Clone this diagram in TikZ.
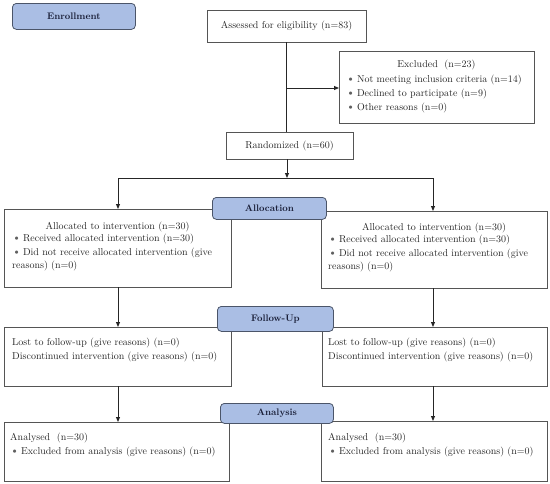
\documentclass[tikz,border=0pt]{standalone}
\usetikzlibrary{arrows.meta}
\definecolor{lblfill}{RGB}{170,190,228}
\definecolor{lbldraw}{RGB}{75,85,105}
\definecolor{boxdraw}{RGB}{85,85,85}
\definecolor{bul}{RGB}{95,95,95}
\definecolor{lbltext}{RGB}{25,30,55}
\newcommand{\bu}{{\color{bul}\fontsize{12}{12}\selectfont\textbullet}\,}
\tikzset{
  box/.style={draw=boxdraw, line width=0.8pt, anchor=north west, inner sep=0pt, outer sep=0pt},
  lbl/.style={draw=lbldraw, fill=lblfill, rounded corners=4pt, line width=0.8pt, anchor=north west, inner sep=0pt,
    font=\fontsize{9.5}{11}\selectfont\bfseries, text=lbltext},
  txt/.style={inner sep=0pt, align=left, font=\fontsize{10}{13.5}\selectfont, text=black!85},
  conn/.style={line width=1pt, draw=black!85},
  arr/.style={conn, -{Triangle[length=5pt,width=4pt]}}
}
\begin{document}
\begin{tikzpicture}[x=1pt,y=-1pt]
\useasboundingbox (0,0) rectangle (550,483);
% boxes
\node[box, minimum width=159pt, minimum height=32pt, txt] (assess) at (207,10) {Assessed for eligibility (n=83)};
\node[box, minimum width=195pt, minimum height=72pt] (excl) at (339,51) {};
\node[txt, anchor=north] (exclt) at (436.5,60) {Excluded\ \ (n=23)};
\node[txt, anchor=north west, font=\fontsize{10}{14}\selectfont] (exclb) at (346,75) {\bu Not meeting inclusion criteria (n=14)\\ \bu Declined to participate (n=9)\\ \bu Other reasons (n=0)};
\node[box, minimum width=127pt, minimum height=27pt, txt] (rand) at (226,132) {Randomized (n=60)};

\node[box, minimum width=227pt, minimum height=78pt] (lalloc) at (4,209) {};
\node[txt, anchor=north] (lallt) at (117.5,222) {Allocated to intervention (n=30)};
\node[txt, anchor=north west] (lallb) at (12,234) {\bu Received allocated intervention (n=30)\\ \bu Did not receive allocated intervention (give\\ reasons) (n=0)};

\node[box, minimum width=226pt, minimum height=77pt] (ralloc) at (321,211) {};
\node[txt, anchor=north] (rallt) at (434,223) {Allocated to intervention (n=30)};
\node[txt, anchor=north west] (rallb) at (328,235) {\bu Received allocated intervention (n=30)\\ \bu Did not receive allocated intervention (give\\ reasons) (n=0)};

\node[box, minimum width=227pt, minimum height=59pt] (lfol) at (4,327) {};
\node[txt, anchor=north west] (lfolt) at (12,338) {Lost to follow-up (give reasons) (n=0)\\ Discontinued intervention (give reasons) (n=0)};
\node[box, minimum width=225pt, minimum height=59pt] (rfol) at (322,327) {};
\node[txt, anchor=north west] (rfolt) at (328,338) {Lost to follow-up (give reasons) (n=0)\\ Discontinued intervention (give reasons) (n=0)};

\node[box, minimum width=225pt, minimum height=59pt] (lana) at (4,422) {};
\node[txt, anchor=north west] (lanat) at (10,433) {Analysed\ \ (n=30)\\ \bu Excluded from analysis (give reasons) (n=0)};
\node[box, minimum width=226pt, minimum height=60pt] (rana) at (321,421) {};
\node[txt, anchor=north west] (ranat) at (328,433) {Analysed\ \ (n=30)\\ \bu Excluded from analysis (give reasons) (n=0)};

% connectors
\coordinate (j1) at (287,88);
\coordinate (split) at (287,178);
\coordinate (lsplit) at (118,178);
\coordinate (rsplit) at (433,178);
\draw[conn] (assess.south) -- (assess.south |- rand.north);
\draw[arr] (j1) -- (j1 -| excl.west);
\draw[arr] (split |- rand.south) -- (split);
\draw[conn] (lsplit) -- (rsplit);
\draw[arr] (lsplit) -- (lsplit |- lalloc.north);
\draw[arr] (rsplit) -- (rsplit |- ralloc.north);
\draw[arr] (lsplit |- lalloc.south) -- (lsplit |- lfol.north);
\draw[arr] (rsplit |- ralloc.south) -- (rsplit |- rfol.north);
\draw[arr] (lsplit |- lfol.south) -- (lsplit |- lana.north);
\draw[arr] (rsplit |- rfol.south) -- (rsplit |- rana.north);

% section labels
\node[lbl, minimum width=123pt, minimum height=26pt] (enr) at (12,3) {Enrollment};
\node[lbl, minimum width=114pt, minimum height=22pt] (alloc) at (212,197) {Allocation};
\node[lbl, minimum width=116pt, minimum height=25pt] (fol) at (217,306) {Follow-Up};
\node[lbl, minimum width=113pt, minimum height=20pt] (ana) at (220,403) {Analysis};
\end{tikzpicture}
\end{document}
